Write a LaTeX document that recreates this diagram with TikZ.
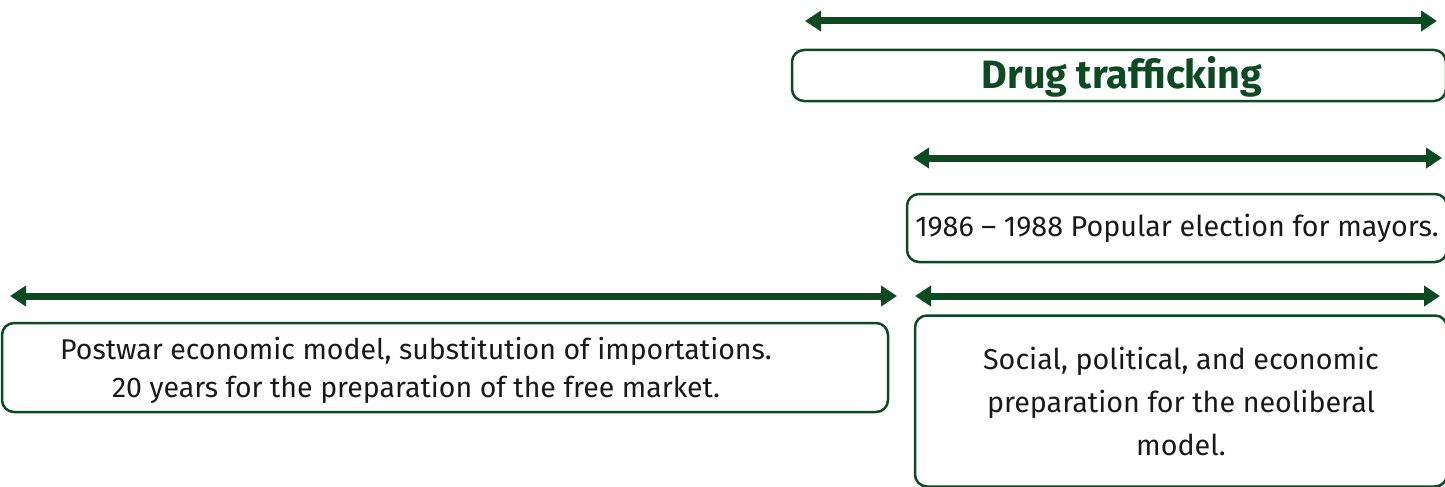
\documentclass[tikz,border=0pt]{standalone}
\usepackage{fontspec}
\setmainfont{Fira Sans}
\usepackage{xcolor}
\usetikzlibrary{arrows.meta}
\definecolor{darkgreen}{HTML}{0C4A22}

\begin{document}
\begin{tikzpicture}[x=1pt,y=-1pt,
    span/.style={darkgreen,line width=7pt,{Triangle[length=16pt,width=20pt]}-{Triangle[length=16pt,width=20pt]}},
    box/.style={draw=darkgreen,line width=2.5pt,rounded corners=12pt,inner sep=0pt},
    txt/.style={text=black!90,font=\fontsize{28.7}{43}\selectfont,align=center}]

    \useasboundingbox (0,0) rectangle (1445,487);

    % Span ends
    \coordinate (A1) at (805,21);
    \coordinate (A2) at (1437,21);
    \coordinate (B1) at (913,158);
    \coordinate (B2) at (1442,158);
    \coordinate (C1) at (10,296);
    \coordinate (C2) at (897,296);
    \coordinate (D1) at (915,296);
    \coordinate (D2) at (1440,296);

    % Spans
    \draw[span] (A1) -- (A2);
    \draw[span] (B1) -- (B2);
    \draw[span] (C1) -- (C2);
    \draw[span] (D1) -- (D2);

    % Boxes
    \node[box,minimum width=654pt,minimum height=51pt]
      (drug) at (1119,75.5) {};
    \node[text=darkgreen,font=\bfseries\fontsize{39.5}{44}\selectfont]
      (drugtext) at (1122,77) {Drug trafficking};

    \node[box,minimum width=540pt,minimum height=68pt,txt]
      (mayors) at (1177,228) {1986 -- 1988 Popular election for mayors.};

    \node[box,minimum width=886pt,minimum height=89pt]
      (postwar) at (445,367.5) {};
    \node[txt,font=\fontsize{28.5}{38}\selectfont] (postwartext) at (416,370)
      {Postwar economic model, substitution of importations.\\
       20 years for the preparation of the free market.};

    \node[box,minimum width=532pt,minimum height=171pt,txt]
      (neolib) at (1181,401)
      {Social, political, and economic\\
       preparation for the neoliberal\\
       model.};
\end{tikzpicture}
\end{document}
